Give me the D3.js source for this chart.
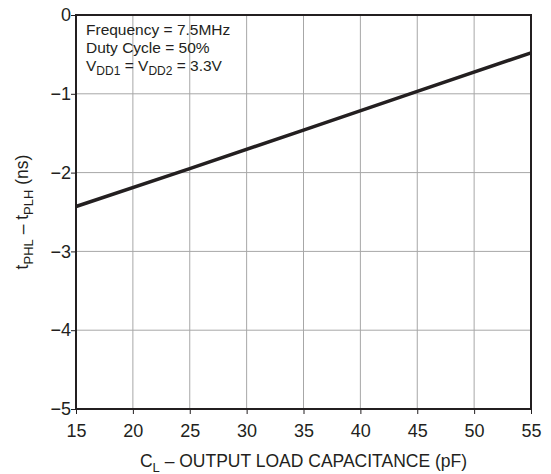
<!DOCTYPE html>
<html>
<head>
<meta charset="utf-8">
<script src="https://cdn.jsdelivr.net/npm/d3@7"></script>
<style>
  body { margin: 0; background: #fff; }
  text { font-family: "Liberation Sans", Arial, sans-serif; fill: #231f20; }
</style>
</head>
<body>
<div id="chart"></div>
<script>
// данные
const capacitance = [15, 25, 35, 45, 55]
const skew = [-2.43, -1.95, -1.46, -0.97, -0.48]
const xTicks = [15, 20, 25, 30, 35, 40, 45, 50, 55]
const yTicks = [0, -1, -2, -3, -4, -5]

const W = 551, H = 474
const m = { left: 76, right: 20, top: 15, bottom: 65 }

const svg = d3.select('#chart').append('svg')
  .attr('width', W).attr('height', H)

const x = d3.scaleLinear().domain([15, 55]).range([m.left, W - m.right])
const y = d3.scaleLinear().domain([-5, 0]).range([H - m.bottom, m.top])

// сетка
svg.append('g').selectAll('line.v')
  .data(xTicks.slice(1, -1)).join('line')
  .attr('x1', d => x(d)).attr('x2', d => x(d))
  .attr('y1', y(0)).attr('y2', y(-5))
  .style('stroke', '#a7a7a7').style('stroke-width', 1)

svg.append('g').selectAll('line.h')
  .data(yTicks.slice(1, -1)).join('line')
  .attr('x1', x(15)).attr('x2', x(55))
  .attr('y1', d => y(d)).attr('y2', d => y(d))
  .style('stroke', '#a7a7a7').style('stroke-width', 1)

// оси
const fmt = d => d < 0 ? '\u2212' + Math.abs(d) : d
const xAxis = svg.append('g')
  .attr('transform', `translate(0,${y(-5)})`)
  .call(d3.axisBottom(x).tickValues(xTicks).tickSize(5).tickPadding(10))
const yAxis = svg.append('g')
  .attr('transform', `translate(${x(15)},0)`)
  .call(d3.axisLeft(y).tickValues(yTicks).tickSize(5).tickPadding(0).tickFormat(fmt))

for (const a of [xAxis, yAxis]) {
  a.select('.domain').remove()
  a.selectAll('line').style('stroke', '#231f20').style('stroke-width', 1)
  a.selectAll('text').style('font-size', '18px')
    .style('font-family', '"Liberation Sans", Arial, sans-serif').style('fill', '#231f20')
}

// рамка
svg.append('rect')
  .attr('x', x(15)).attr('y', y(0))
  .attr('width', x(55) - x(15)).attr('height', y(-5) - y(0))
  .style('fill', 'none').style('stroke', '#231f20').style('stroke-width', 2)

// линия
const pts = capacitance.map((c, i) => [c, skew[i]])
svg.append('path')
  .datum(pts)
  .attr('d', d3.line().x(d => x(d[0])).y(d => y(d[1])))
  .style('fill', 'none').style('stroke', '#231f20').style('stroke-width', 3.5)

// подписи
const note = svg.append('g').style('font-size', '15.5px')
note.append('text').attr('x', 86).attr('y', 35).text('Frequency = 7.5MHz')
note.append('text').attr('x', 86).attr('y', 53).text('Duty Cycle = 50%')
const v = note.append('text').attr('x', 86).attr('y', 71)
v.append('tspan').text('V')
v.append('tspan').attr('dy', 4).style('font-size', '12px').text('DD1')
v.append('tspan').attr('dy', -4).text(' = V')
v.append('tspan').attr('dy', 4).style('font-size', '12px').text('DD2')
v.append('tspan').attr('dy', -4).text(' = 3.3V')

const xt = svg.append('text')
  .attr('x', (x(15) + x(55)) / 2).attr('y', 467)
  .attr('text-anchor', 'middle').style('font-size', '17.5px')
xt.append('tspan').text('C')
xt.append('tspan').attr('dy', 5).style('font-size', '13px').text('L')
xt.append('tspan').attr('dy', -5).text(' \u2013 OUTPUT LOAD CAPACITANCE (pF)')

const yt = svg.append('text')
  .attr('transform', `translate(28,${(y(0) + y(-5)) / 2}) rotate(-90)`)
  .attr('text-anchor', 'middle').style('font-size', '17.5px')
yt.append('tspan').text('t')
yt.append('tspan').attr('dy', 5).style('font-size', '13px').text('PHL')
yt.append('tspan').attr('dy', -5).text(' \u2013 t')
yt.append('tspan').attr('dy', 5).style('font-size', '13px').text('PLH')
yt.append('tspan').attr('dy', -5).text(' (ns)')
</script>
</body>
</html>
